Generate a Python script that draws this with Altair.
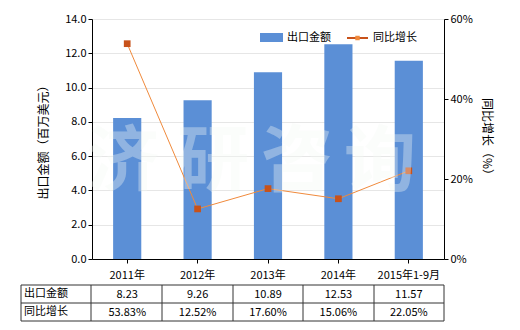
import altair as alt
import pandas as pd

categories = ["2011年", "2012年", "2013年", "2014年", "2015年1-9月"]
amounts = [8.23, 9.26, 10.89, 12.53, 11.57]
growth = [53.83, 12.52, 17.60, 15.06, 22.05]
left_ticks = [0, 2, 4, 6, 8, 10, 12, 14]
right_ticks = [0, 20, 40, 60]

df = pd.DataFrame({"cat": categories, "amount": amounts, "growth": growth})

W, H = 352, 240
step = W / len(categories)
FONT = "Noto Sans CJK SC"
BAR = "#5B8FD6"
LINE = "#F08A3C"
MARK = "#C8521A"

xenc = alt.X("cat:N", sort=categories, title=None,
             scale=alt.Scale(paddingInner=0.6, paddingOuter=0.3),
             axis=alt.Axis(labelAngle=0, labelFont=FONT, labelFontSize=11, labelColor="#000",
                           domainColor="#000", tickColor="#000", tickSize=4, labelPadding=6))

base = alt.Chart(df)

bars = base.mark_bar(color=BAR).encode(
    x=xenc,
    y=alt.Y("amount:Q", scale=alt.Scale(domain=[0, 14], nice=False),
            title="出口金额（百万美元）",
            axis=alt.Axis(values=left_ticks, format=".1f", labelFont=FONT, labelFontSize=11,
                          labelColor="#000", domainColor="#000", tickColor="#000", tickSize=4,
                          gridColor="#E6E6E6", titleFont=FONT, titleFontSize=12,
                          titleFontWeight="normal", titleColor="#000", titlePadding=14))
)

yr = alt.Y("growth:Q", scale=alt.Scale(domain=[0, 60], nice=False),
           title="同比增长（%）",
           axis=alt.Axis(orient="right", values=right_ticks, labelExpr="datum.value + '%'",
                         labelFont=FONT, labelFontSize=11, labelColor="#000", domainColor="#000",
                         tickColor="#000", tickSize=4, grid=False, titleFont=FONT,
                         titleFontSize=12, titleFontWeight="normal", titleColor="#000",
                         titlePadding=7))

line = base.mark_line(color=LINE, strokeWidth=1).encode(x=xenc, y=yr)
pts = base.mark_square(color=MARK, size=45, opacity=1).encode(x=xenc, y=yr)
right = alt.layer(line, pts)

main = alt.layer(bars, right).resolve_scale(y="independent")

one = pd.DataFrame({"a": [0]})
deco = []
# legend
deco.append(alt.Chart(one).mark_rect(color=BAR).encode(
    x=alt.value(168), x2=alt.value(191), y=alt.value(14), y2=alt.value(23)))
deco.append(alt.Chart(one).mark_text(text="出口金额", align="left", baseline="middle",
                                     font=FONT, fontSize=11, color="#000").encode(
    x=alt.value(195), y=alt.value(19)))
deco.append(alt.Chart(one).mark_rule(color=MARK, strokeWidth=2).encode(
    x=alt.value(255), x2=alt.value(276), y=alt.value(19)))
deco.append(alt.Chart(one).mark_square(color=LINE, size=20, opacity=1).encode(
    x=alt.value(265.5), y=alt.value(19)))
deco.append(alt.Chart(one).mark_text(text="同比增长", align="left", baseline="middle",
                                     font=FONT, fontSize=11, color="#000").encode(
    x=alt.value(281), y=alt.value(19)))

# table
tx0, tx1 = -71, W
ty = [266, 284, 302]
for yv in ty:
    deco.append(alt.Chart(one).mark_rule(color="#333", strokeWidth=1).encode(
        x=alt.value(tx0), x2=alt.value(tx1), y=alt.value(yv)))
for xv in [tx0, -1] + [round(step * (i + 1)) for i in range(len(categories))]:
    deco.append(alt.Chart(one).mark_rule(color="#333", strokeWidth=1).encode(
        x=alt.value(xv), y=alt.value(ty[0]), y2=alt.value(ty[-1])))
deco.append(alt.Chart(one).mark_text(text="出口金额", align="left", baseline="middle",
                                     font=FONT, fontSize=11, color="#000").encode(
    x=alt.value(tx0 + 3), y=alt.value(275)))
deco.append(alt.Chart(one).mark_text(text="同比增长", align="left", baseline="middle",
                                     font=FONT, fontSize=11, color="#000").encode(
    x=alt.value(tx0 + 3), y=alt.value(293)))
deco.append(base.mark_text(baseline="middle", font=FONT, fontSize=11, color="#000").encode(
    x=alt.X("cat:N", sort=categories), y=alt.value(276),
    text=alt.Text("amount:Q", format=".2f")))
deco.append(base.transform_calculate(g="format(datum.growth, '.2f') + '%'").mark_text(
    baseline="middle", font=FONT, fontSize=11, color="#000").encode(
    x=alt.X("cat:N", sort=categories), y=alt.value(294), text="g:N"))

# watermark
for ch, xv in zip("济研咨询", [31, 121, 205, 288]):
    deco.append(alt.Chart(one).mark_text(text=ch, align="center", baseline="middle",
                                         font=FONT, fontSize=72, fontWeight="bold",
                                         color="#F6FAF6", opacity=0.35).encode(
        x=alt.value(xv), y=alt.value(144)))

chart = alt.layer(main, *deco).properties(
    width=W, height=H,
    autosize=alt.AutoSizeParams(type="none"),
    padding={"left": 92, "top": 19, "right": 76, "bottom": 71},
).configure_view(stroke=None).configure_axis(labelFont=FONT)

chart.save("out.html", embed_options={"renderer": "svg", "actions": False})
